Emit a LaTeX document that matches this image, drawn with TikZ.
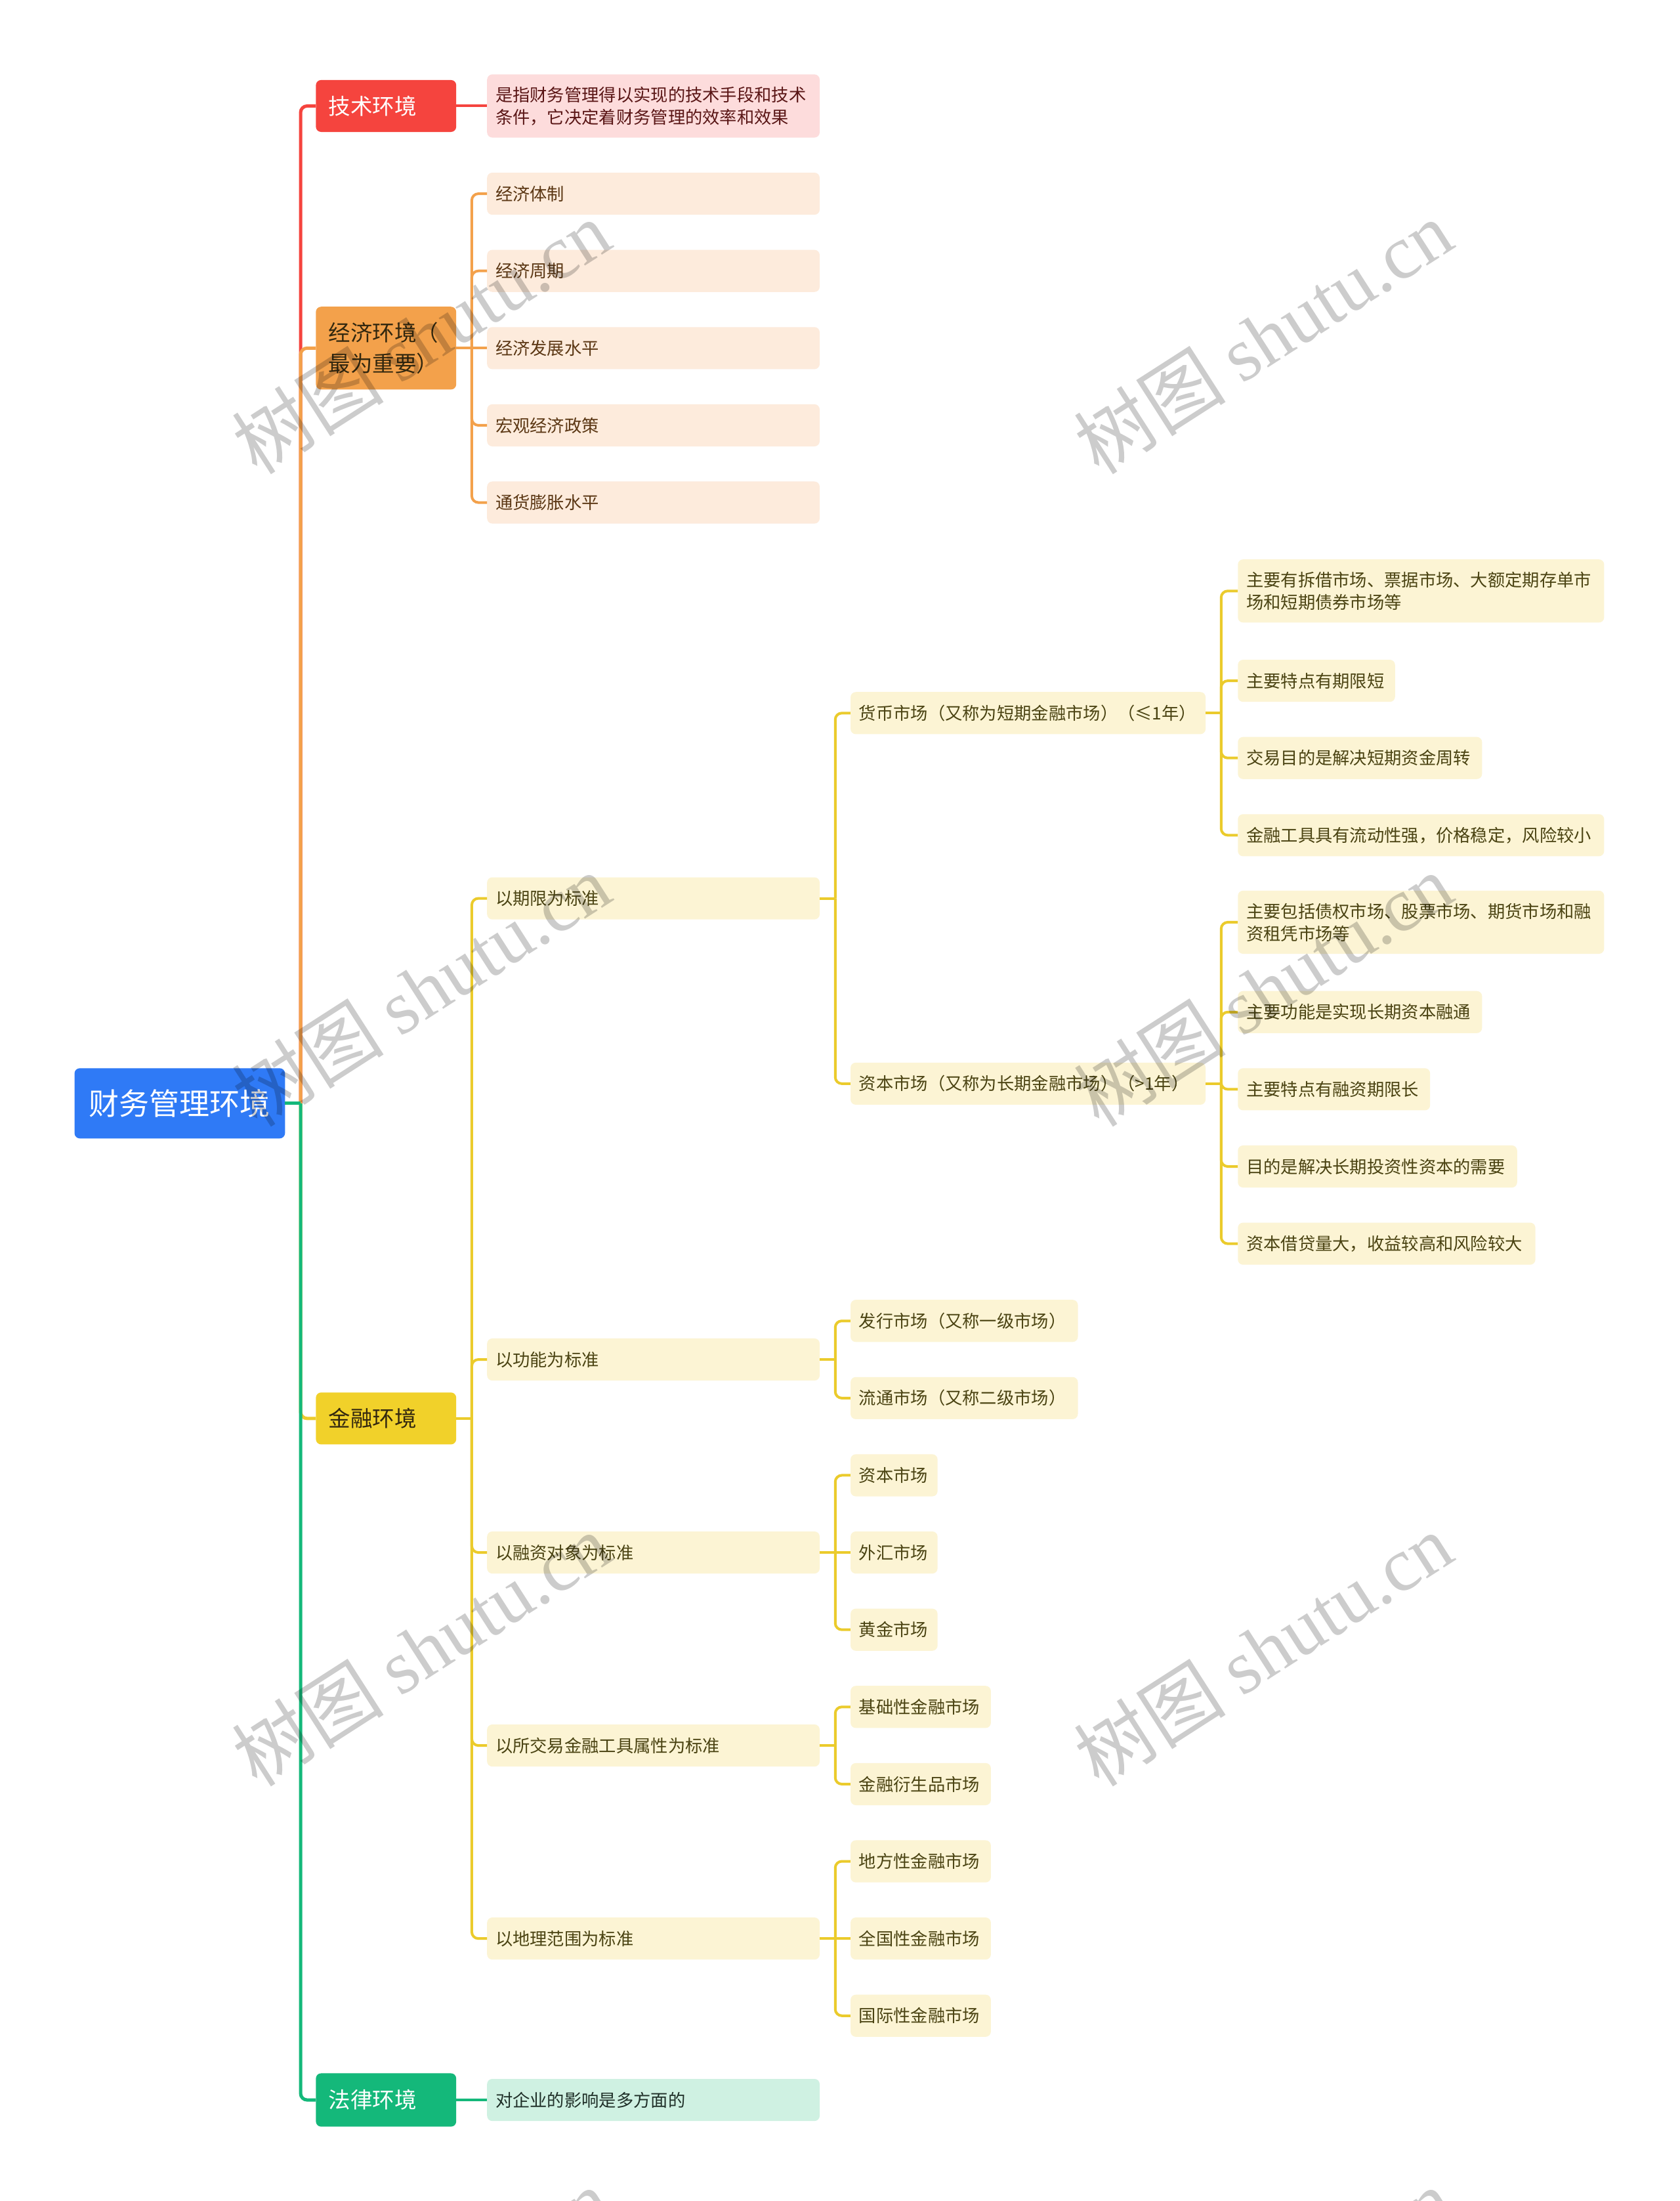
\documentclass[tikz,border=0pt]{standalone}
\usepackage{fontspec}
\setmainfont{Noto Sans CJK SC}
\newfontfamily\wmserif{Liberation Serif}
\definecolor{cRed}{HTML}{F5443E}
\definecolor{cOrange}{HTML}{F3A14B}
\definecolor{cYellow}{HTML}{F1D12A}
\definecolor{cYline}{HTML}{EBCB2C}
\definecolor{cGreen}{HTML}{14B87A}
\definecolor{cBlue}{HTML}{2F7AF6}
\definecolor{fTech}{HTML}{FDDCDC}
\definecolor{fEcon}{HTML}{FDEBDC}
\definecolor{fFin}{HTML}{FCF4D4}
\definecolor{fLegal}{HTML}{CFF1E2}
\definecolor{tTech}{HTML}{5A1616}
\definecolor{tEcon}{HTML}{5B3714}
\definecolor{tFin}{HTML}{4A4312}
\definecolor{tLegal}{HTML}{1F2F28}
\definecolor{tDark}{HTML}{33280F}
\newcommand\mmbox[8]{%
  \pgfmathsetmacro\mmtw{(#4-#3-2*#7)*2.1387}%
  \pgfmathsetmacro\mmpad{#7*2.1387}%
  \pgfmathsetmacro\mmh{#6*2.1387}%
  \node[anchor=west, text width=\mmtw pt, inner xsep=\mmpad pt, inner ysep=0pt,
        minimum height=\mmh pt, align=left, rounded corners=8pt, #1] (#2) at (#3,#5) {#8};}
\newcommand\mmconn[3]{%
  \draw[#1] (#2.east) -- ++(11,0);
  \draw[#1, rounded corners=10pt] (#2.east) ++(11,0) |- (#3.west);}
\tikzset{
  rootbox/.style={fill=cBlue, text=white, align=center, font=\fontsize{46}{56}\selectfont},
  l1light/.style={text=white, font=\fontsize{33.5}{47}\selectfont},
  l1dark/.style={text=tDark, font=\fontsize{33.5}{47}\selectfont},
  leaf/.style={font=\fontsize{26.3}{34}\selectfont},
  techleaf/.style={leaf, fill=fTech, text=tTech},
  econleaf/.style={leaf, fill=fEcon, text=tEcon},
  finleaf/.style={leaf, fill=fFin, text=tFin},
  legalleaf/.style={leaf, fill=fLegal, text=tLegal},
  trunk/.style={line width=5pt},
  sub/.style={line width=4pt},
  wmark/.style={text=black, text opacity=0.2, rotate=32.7, font=\fontsize{116}{120}\selectfont, inner sep=0pt}
}
\begin{document}
\begin{tikzpicture}[x=2.1387pt, y=-2.1387pt]
\useasboundingbox[fill=white] (0,0) rectangle (1197,1568);
% nodes
\mmbox{rootbox}{root}{53}{203}{786}{50}{8}{财务管理环境}
\mmbox{l1light, fill=cRed}{tech}{225}{325}{75.5}{37}{9}{技术环境}
\mmbox{techleaf}{t1}{347}{584}{75.5}{45}{6}{是指财务管理得以实现的技术手段和技术\\条件，它决定着财务管理的效率和效果}
\mmbox{l1dark, fill=cOrange}{econ}{225}{325}{248}{59}{9}{经济环境（\\最为重要）}
\mmbox{econleaf}{e1}{347}{584}{138}{30}{6}{经济体制}
\mmbox{econleaf}{e2}{347}{584}{193}{30}{6}{经济周期}
\mmbox{econleaf}{e3}{347}{584}{248}{30}{6}{经济发展水平}
\mmbox{econleaf}{e4}{347}{584}{303}{30}{6}{宏观经济政策}
\mmbox{econleaf}{e5}{347}{584}{358}{30}{6}{通货膨胀水平}
\mmbox{l1dark, fill=cYellow}{fin}{225}{325}{1010.5}{37}{9}{金融环境}
\mmbox{finleaf}{f1}{347}{584}{640}{30}{6}{以期限为标准}
\mmbox{finleaf}{f2}{347}{584}{968.5}{30}{6}{以功能为标准}
\mmbox{finleaf}{f3}{347}{584}{1106}{30}{6}{以融资对象为标准}
\mmbox{finleaf}{f4}{347}{584}{1243.5}{30}{6}{以所交易金融工具属性为标准}
\mmbox{finleaf}{f5}{347}{584}{1381}{30}{6}{以地理范围为标准}
\mmbox{finleaf}{f1a}{606}{859}{508}{30}{6}{货币市场（又称为短期金融市场）（≤1年）}
\mmbox{finleaf}{f1b}{606}{859}{772}{30}{6}{资本市场（又称为长期金融市场）（>1年）}
\mmbox{finleaf}{f1a1}{882}{1143}{421}{45}{6}{主要有拆借市场、票据市场、大额定期存单市\\场和短期债券市场等}
\mmbox{finleaf}{f1a2}{882}{994}{485}{30}{6}{主要特点有期限短}
\mmbox{finleaf}{f1a3}{882}{1056}{540}{30}{6}{交易目的是解决短期资金周转}
\mmbox{finleaf}{f1a4}{882}{1143}{595}{30}{6}{金融工具具有流动性强，价格稳定，风险较小}
\mmbox{finleaf}{f1b1}{882}{1143}{657}{45}{6}{主要包括债权市场、股票市场、期货市场和融\\资租凭市场等}
\mmbox{finleaf}{f1b2}{882}{1056}{721}{30}{6}{主要功能是实现长期资本融通}
\mmbox{finleaf}{f1b3}{882}{1019}{776}{30}{6}{主要特点有融资期限长}
\mmbox{finleaf}{f1b4}{882}{1081}{831}{30}{6}{目的是解决长期投资性资本的需要}
\mmbox{finleaf}{f1b5}{882}{1094}{886}{30}{6}{资本借贷量大，收益较高和风险较大}
\mmbox{finleaf}{f2a}{606}{768}{941}{30}{6}{发行市场（又称一级市场）}
\mmbox{finleaf}{f2b}{606}{768}{996}{30}{6}{流通市场（又称二级市场）}
\mmbox{finleaf}{f3a}{606}{668}{1051}{30}{6}{资本市场}
\mmbox{finleaf}{f3b}{606}{668}{1106}{30}{6}{外汇市场}
\mmbox{finleaf}{f3c}{606}{668}{1161}{30}{6}{黄金市场}
\mmbox{finleaf}{f4a}{606}{706}{1216}{30}{6}{基础性金融市场}
\mmbox{finleaf}{f4b}{606}{706}{1271}{30}{6}{金融衍生品市场}
\mmbox{finleaf}{f5a}{606}{706}{1326}{30}{6}{地方性金融市场}
\mmbox{finleaf}{f5b}{606}{706}{1381}{30}{6}{全国性金融市场}
\mmbox{finleaf}{f5c}{606}{706}{1436}{30}{6}{国际性金融市场}
\mmbox{l1light, fill=cGreen}{legal}{225}{325}{1496}{38}{9}{法律环境}
\mmbox{legalleaf}{l1}{347}{584}{1496}{30}{6}{对企业的影响是多方面的}
% trunk connectors
\draw[trunk, cRed, rounded corners=10pt] (root.east) ++(11,0) |- (tech.west);
\draw[trunk, cOrange, rounded corners=10pt] (root.east) ++(11,0) |- (econ.west);
\draw[trunk, cYline, rounded corners=10pt] (root.east) ++(11,0) |- (fin.west);
\draw[trunk, cGreen, rounded corners=10pt] (root.east) ++(11,0) |- (legal.west);
\draw[trunk, cGreen] (root.east) -- ++(11,0);
% tech
\draw[sub, cRed] (tech.east) -- (t1.west);
% econ
\mmconn{sub, cOrange}{econ}{e1}
\mmconn{sub, cOrange}{econ}{e2}
\draw[sub, cOrange] (econ.east) -- (e3.west);
\mmconn{sub, cOrange}{econ}{e4}
\mmconn{sub, cOrange}{econ}{e5}
% finance
\mmconn{sub, cYline}{fin}{f1}
\mmconn{sub, cYline}{fin}{f2}
\mmconn{sub, cYline}{fin}{f3}
\mmconn{sub, cYline}{fin}{f4}
\mmconn{sub, cYline}{fin}{f5}
\mmconn{sub, cYline}{f1}{f1a}
\mmconn{sub, cYline}{f1}{f1b}
\mmconn{sub, cYline}{f1a}{f1a1}
\mmconn{sub, cYline}{f1a}{f1a2}
\mmconn{sub, cYline}{f1a}{f1a3}
\mmconn{sub, cYline}{f1a}{f1a4}
\mmconn{sub, cYline}{f1b}{f1b1}
\mmconn{sub, cYline}{f1b}{f1b2}
\mmconn{sub, cYline}{f1b}{f1b3}
\mmconn{sub, cYline}{f1b}{f1b4}
\mmconn{sub, cYline}{f1b}{f1b5}
\mmconn{sub, cYline}{f2}{f2a}
\mmconn{sub, cYline}{f2}{f2b}
\mmconn{sub, cYline}{f3}{f3a}
\draw[sub, cYline] (f3.east) -- (f3b.west);
\mmconn{sub, cYline}{f3}{f3c}
\mmconn{sub, cYline}{f4}{f4a}
\mmconn{sub, cYline}{f4}{f4b}
\mmconn{sub, cYline}{f5}{f5a}
\draw[sub, cYline] (f5.east) -- (f5b.west);
\mmconn{sub, cYline}{f5}{f5c}
% legal
\draw[sub, cGreen] (legal.east) -- (l1.west);
% watermarks
\begin{scope}
\clip (0,0) rectangle (1197,1568);
\foreach \wx/\wy [count=\i] in {300/240, 900/240, 300/705, 900/705, 300/1175, 900/1175, 300/1642, 900/1642}
  \node[wmark] (wm\i) at (\wx,\wy) {树图 {\wmserif shutu.cn}};
\end{scope}
\end{tikzpicture}
\end{document}
